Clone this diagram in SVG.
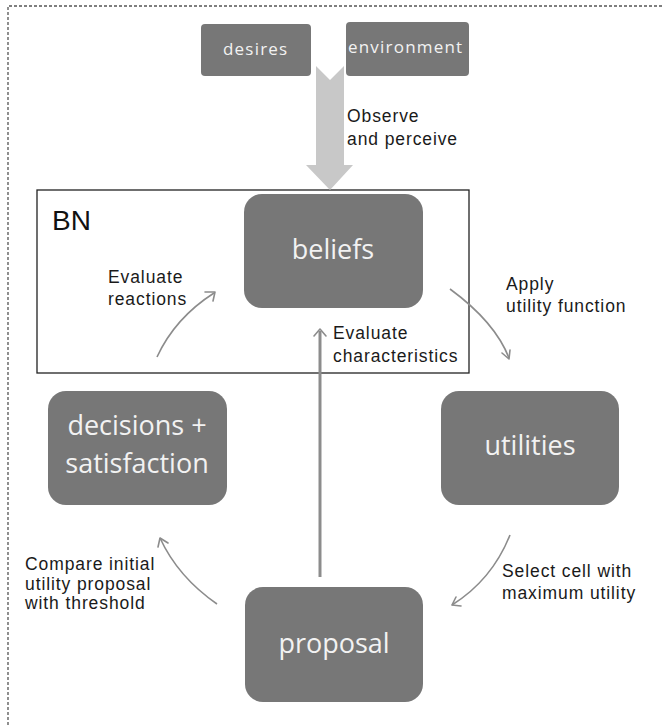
<svg xmlns="http://www.w3.org/2000/svg" width="662" height="725" viewBox="0 0 662 725">
  <defs>
    <style>
      .node { fill: #777777; }
      .ntext { font-family: "Open Sans", "Lato", sans-serif; fill: #f2f2f2; text-anchor: middle; }
      .stext { font-family: "Open Sans", "Lato", sans-serif; fill: #f2f2f2; font-size: 17px; letter-spacing: 1.2px; }
      .small { font-family: "Liberation Sans", "Roboto", sans-serif; font-size: 17.5px; letter-spacing: 0.9px; fill: #1a1a1a; }
      .link { fill: none; stroke: #8c8c8c; stroke-width: 1.6; }
      .head { fill: none; stroke: #8c8c8c; stroke-width: 1.6; stroke-linecap: round; stroke-linejoin: round; }
    </style>
  </defs>
  <rect width="662" height="725" fill="#ffffff"/>

  <!-- outer dashed frame (open on the right) -->
  <path d="M662,6 H8 V725" fill="none" stroke="#555555" stroke-width="1.3" stroke-dasharray="3,2"/>

  <!-- BN region -->
  <rect id="bn" x="37" y="190" width="432" height="183" fill="none" stroke="#222222" stroke-width="1.3"/>
  <text x="52" y="230" font-family="Liberation Sans, Arial, sans-serif" font-size="28" fill="#111111">BN</text>

  <g id="connectors">
    <!-- observe and perceive (block arrow) -->
    <path d="M316,66 L330,80 L344,66 L344,165 L353,165 L330,190 L306,165 L316,165 Z" fill="#c8c8c8"/>
    <!-- evaluate reactions -->
    <path class="link" d="M157,357 Q175,318 214,293"/>
    <path class="head" d="M205,292 L215,292 L213,301"/>
    <!-- evaluate characteristics -->
    <line x1="320" y1="577" x2="320" y2="331" stroke="#8c8c8c" stroke-width="3"/>
    <path class="head" d="M314,336 L320,329 L326,336" stroke-width="1.8"/>
    <!-- apply utility function -->
    <path class="link" d="M450,289 Q495,322 509,358"/>
    <path class="head" d="M502,353 L509,359 L510,350"/>
    <!-- select cell with maximum utility -->
    <path class="link" d="M510,535 Q492,580 452,605"/>
    <path class="head" d="M456,597 L452,605 L461,606"/>
    <!-- compare with threshold -->
    <path class="link" d="M217,604 Q178,577 160,538"/>
    <path class="head" d="M158,547 L160,538 L168,543"/>
  </g>

  <g id="desires">
    <rect class="node" x="201" y="24" width="110" height="52" rx="4"/>
    <text class="stext" x="223" y="55">desires</text>
  </g>
  <g id="environment">
    <rect class="node" x="346" y="22" width="123" height="54" rx="4"/>
    <text class="stext" x="348" y="53" letter-spacing="1.4">environment</text>
  </g>
  <g id="beliefs">
    <rect class="node" x="244" y="194" width="179" height="114" rx="18"/>
    <text class="ntext" x="333" y="259" font-size="27">beliefs</text>
  </g>
  <g id="utilities">
    <rect class="node" x="441" y="391" width="178" height="114" rx="18"/>
    <text class="ntext" x="530" y="455" font-size="27">utilities</text>
  </g>
  <g id="decisions">
    <rect class="node" x="48" y="391" width="179" height="114" rx="18"/>
    <text class="ntext" x="137" y="435" font-size="27">decisions +</text>
    <text class="ntext" x="137" y="473" font-size="27">satisfaction</text>
  </g>
  <g id="proposal">
    <rect class="node" x="245" y="587" width="178" height="115" rx="18"/>
    <text class="ntext" x="334" y="653" font-size="27">proposal</text>
  </g>

  <!-- edge labels -->
  <text class="small" x="347" y="122">Observe</text>
  <text class="small" x="347" y="145">and perceive</text>
  <text class="small" x="108" y="283">Evaluate</text>
  <text class="small" x="108" y="305">reactions</text>
  <text class="small" x="333" y="339">Evaluate</text>
  <text class="small" x="333" y="362">characteristics</text>
  <text class="small" x="506" y="290">Apply</text>
  <text class="small" x="506" y="312">utility function</text>
  <text class="small" x="502" y="577">Select cell with</text>
  <text class="small" x="502" y="599">maximum utility</text>
  <text class="small" x="25" y="570">Compare initial</text>
  <text class="small" x="25" y="590">utility proposal</text>
  <text class="small" x="25" y="609">with threshold</text>
</svg>
